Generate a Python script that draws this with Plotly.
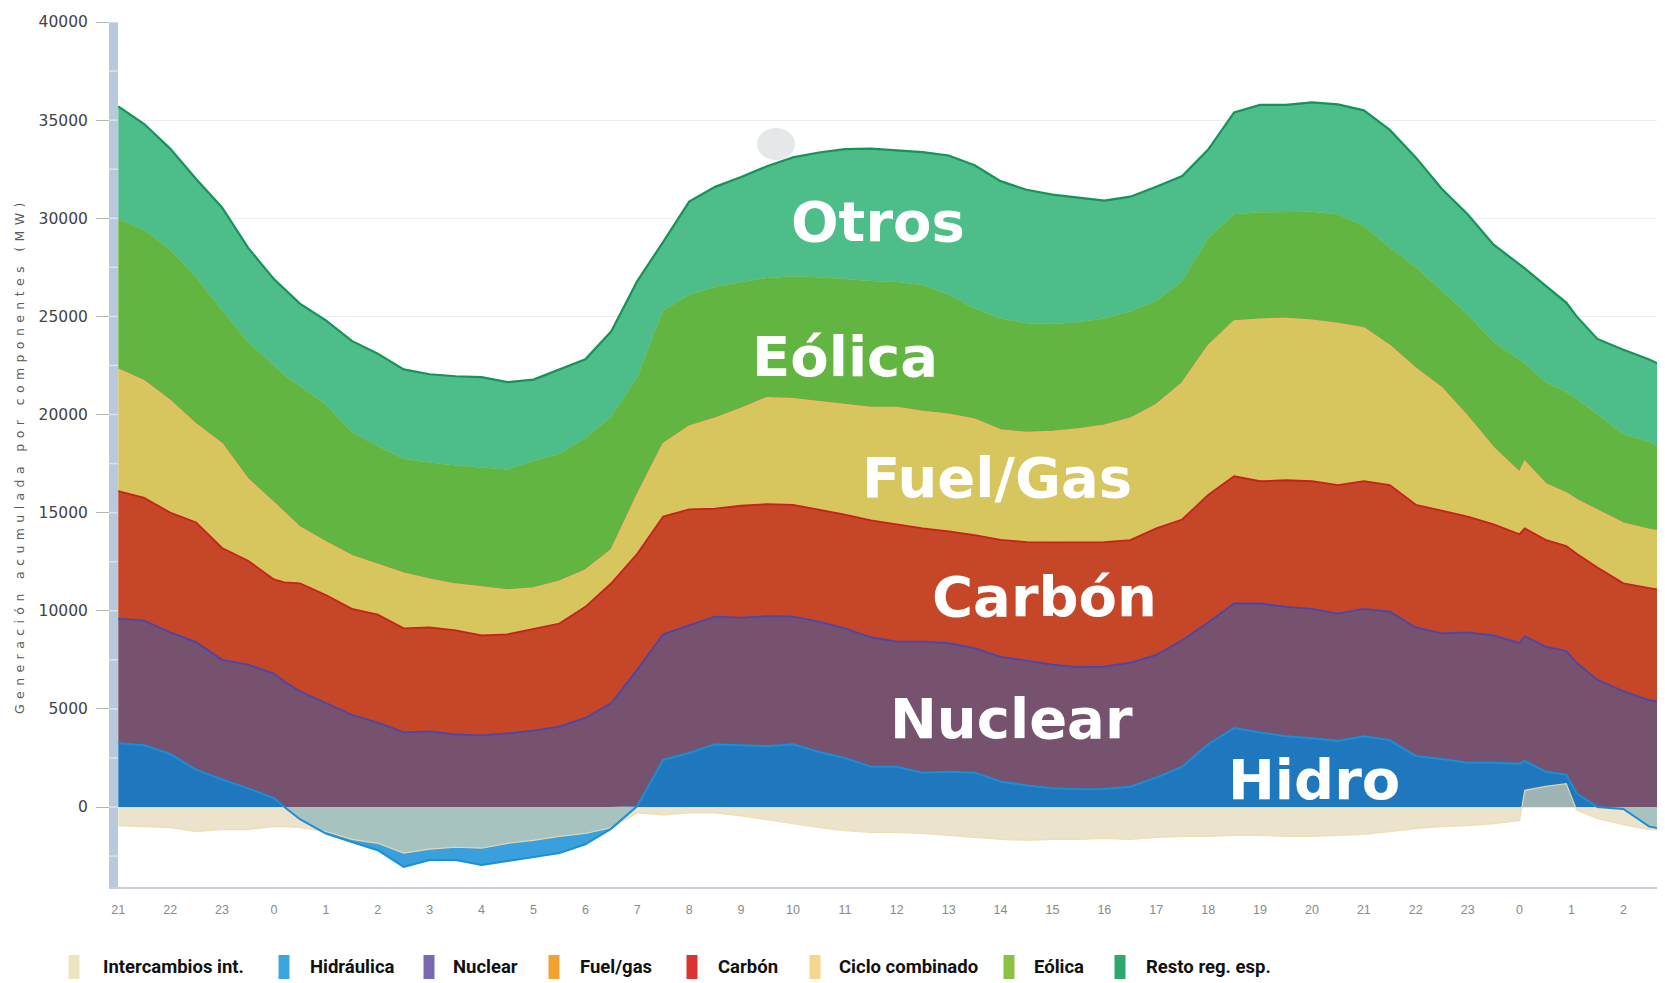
import numpy as np
import plotly.graph_objects as go

# ---------------- data (MW) ----------------
hours = [0, 0.5, 1, 1.5, 2, 2.5, 3, 3.2, 3.5, 4, 4.5, 5, 5.5, 6, 6.5, 7, 7.5, 8, 8.5, 9,
         9.5, 10, 10.5, 11, 11.5, 12, 12.5, 13, 13.5, 14, 14.5, 15, 15.5, 16, 16.5, 17,
         17.5, 18, 18.5, 19, 19.5, 20, 20.5, 21, 21.5, 22, 22.5, 23, 23.5, 24, 24.5, 25,
         25.5, 26, 26.5, 27, 27.1, 27.5, 27.9, 28.1, 28.5, 29, 29.5, 29.8]

hour_labels = ['21', '22', '23'] + [str(i) for i in range(24)] + ['0', '1', '2']

hidraulica = [3250, 3150, 2700, 1900, 1400, 950, 450, 0, -620, -1360, -1780, -2200, -3050,
              -2700, -2700, -2950, -2750, -2550, -2350, -1900, -1100, 50, 2400, 2750, 3200,
              3150, 3100, 3200, 2800, 2500, 2050, 2050, 1750, 1800, 1750, 1300, 1100, 950,
              900, 920, 1030, 1500, 2050, 3200, 4020, 3800, 3600, 3500, 3370, 3600, 3400,
              2600, 2450, 2250, 2250, 2200, 2350, 1800, 1650, 700, 0, -100, -1000, -1150]

nuclear = [6350, 6350, 6200, 6500, 6100, 6300, 6350, 6400, 5900, 5300, 4700, 4300, 3800,
           3850, 3700, 3650, 3750, 3890, 4100, 4540, 5300, 6950, 6400, 6500, 6500, 6500,
           6620, 6500, 6650, 6600, 6600, 6380, 6680, 6550, 6350, 6350, 6350, 6300, 6230,
           6230, 6320, 6250, 6450, 6200, 6350, 6570, 6600, 6600, 6480, 6500, 6550, 6550,
           6400, 6650, 6500, 6150, 6350, 6370, 6300, 6650, 6480, 5900, 5440, 5310]

carbon = [6500, 6250, 6100, 6100, 5700, 5300, 4800, 5050, 5500, 5500, 5400, 5500, 5300,
          5300, 5300, 5100, 5050, 5180, 5250, 5660, 6100, 5900, 6000, 5920, 5500, 5700,
          5710, 5700, 5700, 5800, 5950, 5970, 5770, 5700, 5750, 5960, 6050, 6230, 6350,
          6350, 6250, 6450, 6150, 6500, 6480, 6230, 6450, 6500, 6550, 6500, 6450, 6250,
          6250, 5900, 5650, 5550, 5500, 5440, 5350, 5550, 5720, 5500, 5710, 5710]

fuel_gas = [6200, 5950, 5700, 5000, 5300, 4150, 3900, 3550, 2850, 2700, 2700, 2550, 2800,
            2450, 2350, 2450, 2250, 2080, 2150, 1860, 1700, 3000, 3700, 4230, 4600, 4950,
            5420, 5400, 5500, 5600, 5750, 5950, 5950, 5950, 5900, 5590, 5580, 5640, 5770,
            5950, 6200, 6300, 6950, 7600, 7910, 8250, 8240, 8200, 8230, 7800, 7100, 6950,
            6250, 5100, 3900, 3150, 3400, 2850, 2700, 2750, 2900, 3050, 2980, 2980]

eolica = [7650, 7700, 7700, 7500, 6800, 7000, 7000, 7000, 7200, 7000, 6300, 6050, 5850,
          5950, 6050, 6100, 6150, 6480, 6500, 6740, 6800, 6000, 6800, 6700, 6700, 6450,
          6100, 6250, 6350, 6400, 6450, 6400, 6450, 6100, 5650, 5690, 5570, 5510, 5450,
          5450, 5450, 5300, 5200, 5500, 5440, 5450, 5440, 5530, 5570, 5200, 5000, 5150,
          4950, 5200, 5400, 5700, 5000, 5190, 5150, 5150, 4900, 4550, 4470, 4150]

otros = [5750, 5400, 5150, 5000, 5250, 4800, 4400, 4400, 4200, 4300, 4650, 4700, 4550,
         4500, 4550, 4600, 4450, 4150, 4300, 4010, 4340, 4900, 3500, 4750, 5100, 5350,
         5700, 6050, 6350, 6620, 6750, 6700, 6770, 7100, 7300, 7000, 6800, 6570, 6350,
         6000, 5850, 5800, 5350, 4500, 5190, 5480, 5450, 5570, 5600, 5900, 6000, 5600,
         5200, 5100, 4950, 4900, 4850, 4920, 4550, 4200, 3850, 4300, 4200, 4280]

intercambios = [-950, -1000, -1050, -1250, -1150, -1150, -1000, -1000, -1050, -1250, -1650,
                -1850, -2350, -2150, -2050, -2100, -1850, -1700, -1500, -1350, -1050, -300,
                -400, -300, -300, -450, -650, -850, -1050, -1200, -1300, -1300, -1350, -1450,
                -1550, -1650, -1700, -1650, -1650, -1600, -1650, -1550, -1500, -1500, -1450,
                -1450, -1500, -1500, -1450, -1400, -1250, -1100, -1000, -950, -850, -700, 850,
                1050, 1190, -150, -600, -900, -1150, -1200]

area_labels = ['Otros', 'Eólica', 'Fuel/Gas', 'Carbón', 'Nuclear', 'Hidro']

legend_labels = ['Intercambios int.', 'Hidráulica', 'Nuclear', 'Fuel/gas', 'Carbón',
                 'Ciclo combinado', 'Eólica', 'Resto reg. esp.']

# ---------------- layout geometry (page pixels) ----------------
OFF = 8                      # default page margin around the figure
PAGE_W, PAGE_H = 1665, 983
W, H = PAGE_W - OFF, PAGE_H - OFF
PL, PR, PT, PB = 118, 1665, 22, 887     # plot area in page pixels
L, T = PL - OFF, PT - OFF
R, B = PAGE_W - PR, PAGE_H - PB
PW, PH = PR - PL, PB - PT


def px(xp):
    return (xp - PL) / PW


def py(yp):
    return (PB - yp) / PH


x = np.array(hours, dtype=float)
hid = np.array(hidraulica, dtype=float)
hid_pos = np.clip(hid, 0, None)
hid_neg = np.where(hid < 0, hid, 0.0)

fig = go.Figure()

stack = [
    ('Hidráulica', hid_pos, '#1f77bd', '#1f77bd', 0),
    ('Nuclear', nuclear, '#76526e', '#4a46ab', 1.8),
    ('Carbón', carbon, '#c64628', '#c8201e', 1.8),
    ('Fuel/gas', fuel_gas, '#d7c55d', '#f3b866', 1.8),
    ('Eólica', eolica, '#63b541', '#63b541', 0.6),
    ('Resto reg. esp.', otros, '#4dbd89', '#15935a', 2.2),
]
for name, vals, fc, lc, lw in stack:
    fig.add_trace(go.Scatter(
        x=x, y=vals, name=name, mode='lines', stackgroup='pos',
        fillcolor=fc, line=dict(color=lc, width=lw), hoverinfo='skip', showlegend=False))

# pumping (negative hydro)
fig.add_trace(go.Scatter(
    x=x, y=hid_neg, mode='lines', fill='tozeroy', fillcolor='#3aa0dd',
    line=dict(color='#3aa0dd', width=0), hoverinfo='skip', showlegend=False))

# international exchanges, translucent over the hydro
fig.add_trace(go.Scatter(
    x=x, y=intercambios, mode='lines', fill='tozeroy', fillcolor='rgba(224,213,178,0.66)',
    line=dict(color='rgba(240,220,175,0.9)', width=1.2), hoverinfo='skip', showlegend=False))

# hydro edge line
fig.add_trace(go.Scatter(
    x=x, y=hid, mode='lines', line=dict(color='#1b8ed8', width=2),
    hoverinfo='skip', showlegend=False))

shapes = []
# light notches on the y-axis bar
for v in range(-2500, 40001, 2500):
    shapes.append(dict(type='line', xref='paper', yref='y', x0=px(109), x1=px(118),
                       y0=v, y1=v, line=dict(color='#dbe4ee', width=1.5), layer='above'))

# faint grey blob near the top of the chart
shapes.append(dict(type='circle', xref='paper', yref='paper',
                   x0=px(757), x1=px(795), y0=py(160), y1=py(128),
                   fillcolor='rgba(212,216,216,0.6)', line=dict(width=0), layer='above'))

legend_colors = ['#ece5c0', '#3ca4de', '#7a69b2', '#f1a232', '#d93333', '#f6d68c',
                 '#8dc143', '#2fa86f']
legend_swatch_x = [74, 284, 429, 554, 692, 815, 1009, 1120]
legend_text_x = [101, 308, 451, 578, 716, 837, 1032, 1144]
leg_y = 967

annotations = []
for lab, col, sx, tx in zip(legend_labels, legend_colors, legend_swatch_x, legend_text_x):
    shapes.append(dict(type='rect', xref='paper', yref='paper',
                       x0=px(sx - 5.5), x1=px(sx + 5.5), y0=py(leg_y + 12), y1=py(leg_y - 12),
                       fillcolor=col, line=dict(width=0), layer='above'))
    annotations.append(dict(text=lab, xref='paper', yref='paper', x=px(tx), y=py(leg_y),
                            xanchor='left', yanchor='middle', showarrow=False,
                            font=dict(family='Roboto, Liberation Sans', size=18.5,
                                      color='#111111', weight='bold')))

label_pos = [(878, 221), (845, 356), (997, 477), (1044, 596), (1012, 718), (1314, 779)]
for lab, (lx, ly) in zip(area_labels, label_pos):
    annotations.append(dict(text=lab, xref='paper', yref='paper', x=px(lx), y=py(ly),
                            xanchor='center', yanchor='middle', showarrow=False,
                            font=dict(family='DejaVu Sans', size=56, color='white', weight='bold')))

annotations.append(dict(
    text='<span style="letter-spacing:5.4px">Generación acumulada por componentes (MW)</span>',
    xref='paper', yref='paper', x=px(19), y=py(456), textangle=-90,
    xanchor='center', yanchor='middle', showarrow=False,
    font=dict(family='DejaVu Sans', size=12.5, color='#5a5a5a')))

fig.update_layout(
    width=W, height=H,
    margin=dict(l=L, r=R, t=T, b=B, pad=0),
    paper_bgcolor='white', plot_bgcolor='white',
    showlegend=False,
    shapes=shapes, annotations=annotations,
    xaxis=dict(range=[-0.005, -0.005 + PW / 51.9], tickmode='array', tickvals=list(range(30)),
               ticktext=hour_labels, showgrid=False, zeroline=False,
               showline=True, linecolor='#c6ced8', linewidth=2, ticks='',
               ticklabelstandoff=10,
               tickfont=dict(family='Liberation Sans', size=12.5, color='#8a8a8a')),
    yaxis=dict(range=[-4076, 40000], tickmode='array', tickvals=list(range(0, 40001, 5000)),
               tickformat='d', showgrid=True, gridcolor='#ececec', gridwidth=1,
               zeroline=False, showline=True, linecolor='#b8c9dd', linewidth=9,
               ticks='outside', ticklen=13, tickcolor='#b5b5b5', tickwidth=1,
               ticklabelstandoff=5,
               tickfont=dict(family='DejaVu Sans', size=15.5, color='#444444')),
)

fig.write_html('out.html')
